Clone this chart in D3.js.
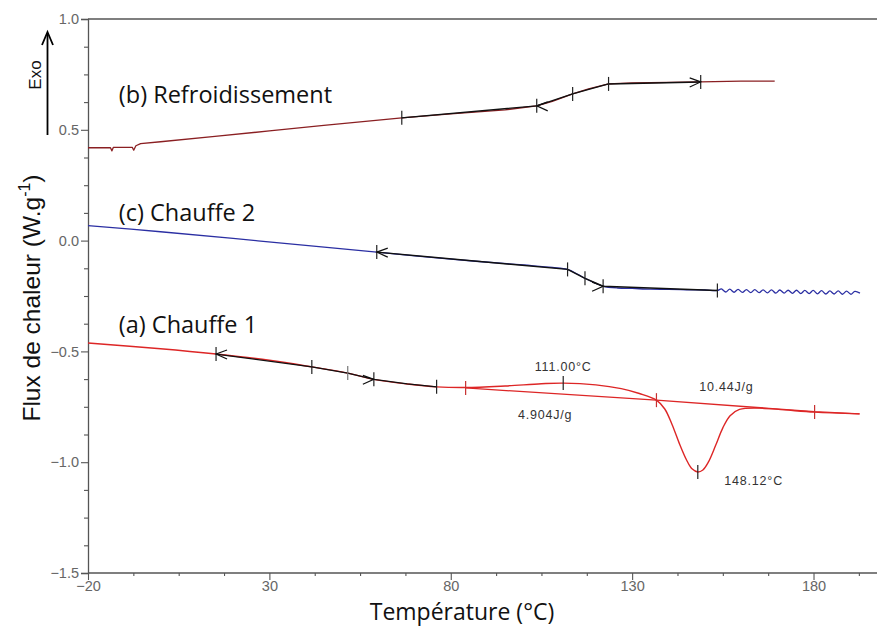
<!DOCTYPE html>
<html>
<head>
<meta charset="utf-8">
<script src="https://cdn.jsdelivr.net/npm/d3@7"></script>
<style>
  html, body { margin: 0; padding: 0; background: #fff; }
  svg { display: block; }
</style>
</head>
<body>
<svg id="chart" width="877" height="637"></svg>
<script>
// ---------------- DATA ----------------
const xMajorTicks = [-20, 30, 80, 130, 180];
const xMinorTicks = [-7.5, 5, 17.5, 42.5, 55, 67.5, 92.5, 105, 117.5, 142.5, 155, 167.5, 192.5];
const yMajorTicks = [-1.5, -1.0, -0.5, 0.0, 0.5, 1.0];
const yMinorTicks = [-1.375, -1.25, -1.125, -0.875, -0.75, -0.625, -0.375, -0.25, -0.125, 0.125, 0.25, 0.375, 0.625, 0.75, 0.875];

// (b) Refroidissement  [T (°C), flux (W/g)]
const coolingCurve = [
  [-20, 0.419], [-13.8, 0.419], [-13.4, 0.405], [-13.0, 0.421], [-7.8, 0.421], [-7.4, 0.408],
  [-6.8, 0.428], [-5.5, 0.438], [0, 0.446], [15, 0.47], [30, 0.495], [45, 0.52], [66.5, 0.554],
  [80, 0.572], [95, 0.59], [103.7, 0.608], [108, 0.628], [113.6, 0.662], [118, 0.685],
  [123.5, 0.707], [130, 0.712], [140, 0.714], [148.9, 0.716], [160, 0.72], [169.3, 0.72]
];
const coolingOverlay = [[66.5, 0.554], [103.7, 0.608], [113.6, 0.662], [123.5, 0.707], [148.9, 0.716]];
const coolingMarks = [[66.5, 0.554], [103.7, 0.608], [113.6, 0.662], [123.5, 0.707], [148.9, 0.716]];
const coolingArrowsLeft = [[103.7, 0.608]];
const coolingArrowsRight = [[148.9, 0.716]];

// (c) Chauffe 2
const heating2Curve = [
  [-20, 0.068], [0, 0.04], [20, 0.01], [40, -0.022], [59.6, -0.052], [80, -0.084], [100, -0.11],
  [108, -0.121], [112.2, -0.13], [115, -0.152], [117, -0.17], [120, -0.193], [122, -0.206],
  [126, -0.214], [130, -0.216], [135, -0.219], [140, -0.22], [145, -0.222], [150, -0.223], [153.5, -0.225],
  [154.6, -0.218], [155.8, -0.232], [156.9, -0.219], [158.1, -0.233], [159.2, -0.220], [160.4, -0.234],
  [161.5, -0.221], [162.7, -0.235], [163.8, -0.221], [165.0, -0.235], [166.1, -0.222], [167.3, -0.236],
  [168.4, -0.222], [169.6, -0.237], [170.7, -0.223], [171.9, -0.237], [173.0, -0.224], [174.2, -0.238],
  [175.3, -0.224], [176.5, -0.239], [177.6, -0.225], [178.8, -0.239], [179.9, -0.225], [181.1, -0.240],
  [182.2, -0.226], [183.4, -0.241], [184.5, -0.227], [185.7, -0.241], [186.8, -0.227], [188.0, -0.242],
  [189.1, -0.228], [190.3, -0.242], [191.4, -0.229], [192.8, -0.237]
];
const heating2Overlay = [[59.6, -0.052], [112.2, -0.13], [117, -0.17], [122, -0.206], [153.5, -0.225]];
const heating2Marks = [[59.6, -0.052], [112.2, -0.13], [117, -0.17], [122, -0.206], [153.5, -0.225]];
const heating2ArrowsLeft = [[59.6, -0.052]];
const heating2ArrowsRight = [[122, -0.206]];

// (a) Chauffe 1
const heating1Curve = [
  [-20, -0.462], [0, -0.488], [15.3, -0.512], [30, -0.54], [41.7, -0.57], [51.6, -0.598],
  [58.8, -0.626], [68, -0.647], [76.1, -0.66], [84.1, -0.663], [95, -0.656], [105, -0.646],
  [111, -0.643], [120, -0.651], [127, -0.668], [132, -0.69], [136.7, -0.72], [139, -0.76],
  [141, -0.83], [143, -0.915], [145, -0.99], [146.5, -1.03], [148.1, -1.044], [149.5, -1.035],
  [151, -1.0], [153, -0.925], [155, -0.845], [157, -0.79], [159.6, -0.762], [165, -0.756],
  [172, -0.764], [180.3, -0.774], [192.7, -0.782]
];
const heating1Baseline = [[84.1, -0.665], [136.7, -0.72], [180.3, -0.772], [192.7, -0.782]];
const heating1Overlay = [[15.3, -0.512], [41.7, -0.57], [51.6, -0.598], [58.8, -0.626], [68, -0.647], [76.1, -0.66]];
const heating1MarksBlack = [[15.3, -0.512], [41.7, -0.57], [58.8, -0.626], [76.1, -0.66], [111, -0.643], [148.1, -1.044]];
const heating1MarksGray = [[51.6, -0.598]];
const heating1MarksRed = [[84.1, -0.665], [136.7, -0.72], [180.3, -0.774]];
const heating1ArrowsLeft = [[15.3, -0.512]];
const heating1ArrowsRight = [[58.8, -0.626]];

const annotations = [
  { text: "111.00°C", T: 111, v: -0.575 },
  { text: "4.904J/g", T: 106, v: -0.79 },
  { text: "10.44J/g", T: 156, v: -0.665 },
  { text: "148.12°C", T: 163.5, v: -1.09 }
];
const curveLabels = [
  { text: "(b) Refroidissement", T: -11.5, v: 0.62 },
  { text: "(c) Chauffe 2", T: -11.5, v: 0.088 },
  { text: "(a) Chauffe 1", T: -11.5, v: -0.417 }
];

// ---------------- CHART ----------------
const svg = d3.select("#chart");
const x = d3.scaleLinear().domain([-20, 197.5]).range([88, 877]);
const y = d3.scaleLinear().domain([-1.5, 1.0]).range([573, 19]);

const axisColor = "#555";
const labelColor = "#666";

// top border
svg.append("line").attr("x1", x(-20)).attr("x2", 877).attr("y1", y(1.0)).attr("y2", y(1.0))
  .attr("stroke", axisColor).attr("stroke-width", 1.3);

function styleAxis(g) {
  g.attr("font-size", 14.5).attr("font-family", "Liberation Sans, Arial, sans-serif");
  g.select(".domain").attr("stroke", axisColor).attr("stroke-width", 1.3);
  g.selectAll(".tick line").attr("stroke", axisColor).attr("stroke-width", 1.1);
  g.selectAll("text").attr("fill", labelColor).attr("font-family", "Liberation Sans, Arial, sans-serif")
    .attr("font-size", 14.5);
}

// x axis
const xAxisG = svg.append("g").attr("transform", `translate(0,${y(-1.5)})`)
  .call(d3.axisBottom(x).tickValues(xMajorTicks).tickSize(7).tickPadding(1).tickFormat(d3.format("d")));
styleAxis(xAxisG);
xAxisG.select(".domain").attr("d", `M${x(-20)},0H877`);
const xMinorG = svg.append("g").attr("transform", `translate(0,${y(-1.5)})`)
  .call(d3.axisBottom(x).tickValues(xMinorTicks).tickSize(3).tickFormat(""));
styleAxis(xMinorG);
xMinorG.select(".domain").remove();

// y axis
const yAxisG = svg.append("g").attr("transform", `translate(${x(-20)},0)`)
  .call(d3.axisLeft(y).tickValues(yMajorTicks).tickSize(7).tickPadding(2).tickFormat(d3.format(".1f")));
styleAxis(yAxisG);
const yMinorG = svg.append("g").attr("transform", `translate(${x(-20)},0)`)
  .call(d3.axisLeft(y).tickValues(yMinorTicks).tickSize(4).tickFormat(""));
styleAxis(yMinorG);
yMinorG.select(".domain").remove();

// axis titles
svg.append("text").attr("x", 462).attr("y", 620).attr("text-anchor", "middle")
  .attr("font-family", "Open Sans, sans-serif").attr("font-size", 23).attr("fill", "#111")
  .text("Température (°C)");

const yTitle = svg.append("text").attr("transform", "translate(40,298) rotate(-90)")
  .attr("text-anchor", "middle").attr("font-family", "Liberation Sans, Arial, sans-serif")
  .attr("font-size", 24.5).attr("fill", "#111");
yTitle.append("tspan").text("Flux de chaleur (W.g");
yTitle.append("tspan").attr("dy", -10).attr("font-size", 16).text("-1");
yTitle.append("tspan").attr("dy", 10).text(")");

// Exo arrow
svg.append("line").attr("x1", 47.5).attr("x2", 47.5).attr("y1", 135).attr("y2", 33)
  .attr("stroke", "#000").attr("stroke-width", 1.8);
svg.append("path").attr("d", "M42,45 L47.5,32 L53,45").attr("fill", "none")
  .attr("stroke", "#000").attr("stroke-width", 1.8);
svg.append("text").attr("transform", "translate(41,75) rotate(-90)").attr("text-anchor", "middle")
  .attr("font-family", "Liberation Sans, Arial, sans-serif").attr("font-size", 17).attr("fill", "#111")
  .text("Exo");

// curves
const lineLinear = d3.line().x(d => x(d[0])).y(d => y(d[1]));
const lineSmooth = d3.line().x(d => x(d[0])).y(d => y(d[1])).curve(d3.curveCatmullRom.alpha(0.5));

function drawPath(data, gen, color, width) {
  svg.append("path").datum(data).attr("d", gen).attr("fill", "none")
    .attr("stroke", color).attr("stroke-width", width).attr("stroke-linejoin", "round");
}

const cB = "#8a1f22", cC = "#2b2fa3", cA = "#dd2626";

drawPath(coolingCurve, lineLinear, cB, 1.3);
drawPath(heating2Curve, lineSmooth, cC, 1.3);
drawPath(heating1Baseline, lineLinear, cA, 1.3);
drawPath(heating1Curve, lineSmooth, cA, 1.4);

drawPath(coolingOverlay, lineLinear, "#111", 1.4);
drawPath(heating2Overlay, lineLinear, "#111", 1.4);
drawPath(heating1Overlay, lineLinear, "#111", 1.3);

function drawMarks(data, color) {
  svg.selectAll(null).data(data).enter().append("line")
    .attr("x1", d => x(d[0])).attr("x2", d => x(d[0]))
    .attr("y1", d => y(d[1]) - 7).attr("y2", d => y(d[1]) + 7)
    .attr("stroke", color).attr("stroke-width", 1.2);
}
drawMarks(coolingMarks, "#222");
drawMarks(heating2Marks, "#222");
drawMarks(heating1MarksBlack, "#222");
drawMarks(heating1MarksGray, "#777");
drawMarks(heating1MarksRed, "#c83030");

function drawArrows(data, dir) {
  svg.selectAll(null).data(data).enter().append("path")
    .attr("d", d => {
      const px = x(d[0]), py = y(d[1]);
      const s = dir; // -1 left-pointing, +1 right-pointing
      return `M${px - s * 11},${py - 4} L${px},${py} L${px - s * 11},${py + 5}`;
    })
    .attr("fill", "none").attr("stroke", "#111").attr("stroke-width", 1.2);
}
drawArrows(coolingArrowsLeft, -1);
drawArrows(coolingArrowsRight, 1);
drawArrows(heating2ArrowsLeft, -1);
drawArrows(heating2ArrowsRight, 1);
drawArrows(heating1ArrowsLeft, -1);
drawArrows(heating1ArrowsRight, 1);

// annotations
svg.selectAll(null).data(annotations).enter().append("text")
  .attr("x", d => x(d.T)).attr("y", d => y(d.v)).attr("text-anchor", "middle")
  .attr("dominant-baseline", "middle")
  .attr("font-family", "Liberation Sans, Arial, sans-serif").attr("font-size", 12.5)
  .attr("letter-spacing", 0.8).attr("fill", "#333").text(d => d.text);

// curve labels
svg.selectAll(null).data(curveLabels).enter().append("text")
  .attr("x", d => x(d.T)).attr("y", d => y(d.v))
  .attr("font-family", "Open Sans, sans-serif").attr("font-size", 23.5).attr("fill", "#111")
  .text(d => d.text);
</script>
</body>
</html>
